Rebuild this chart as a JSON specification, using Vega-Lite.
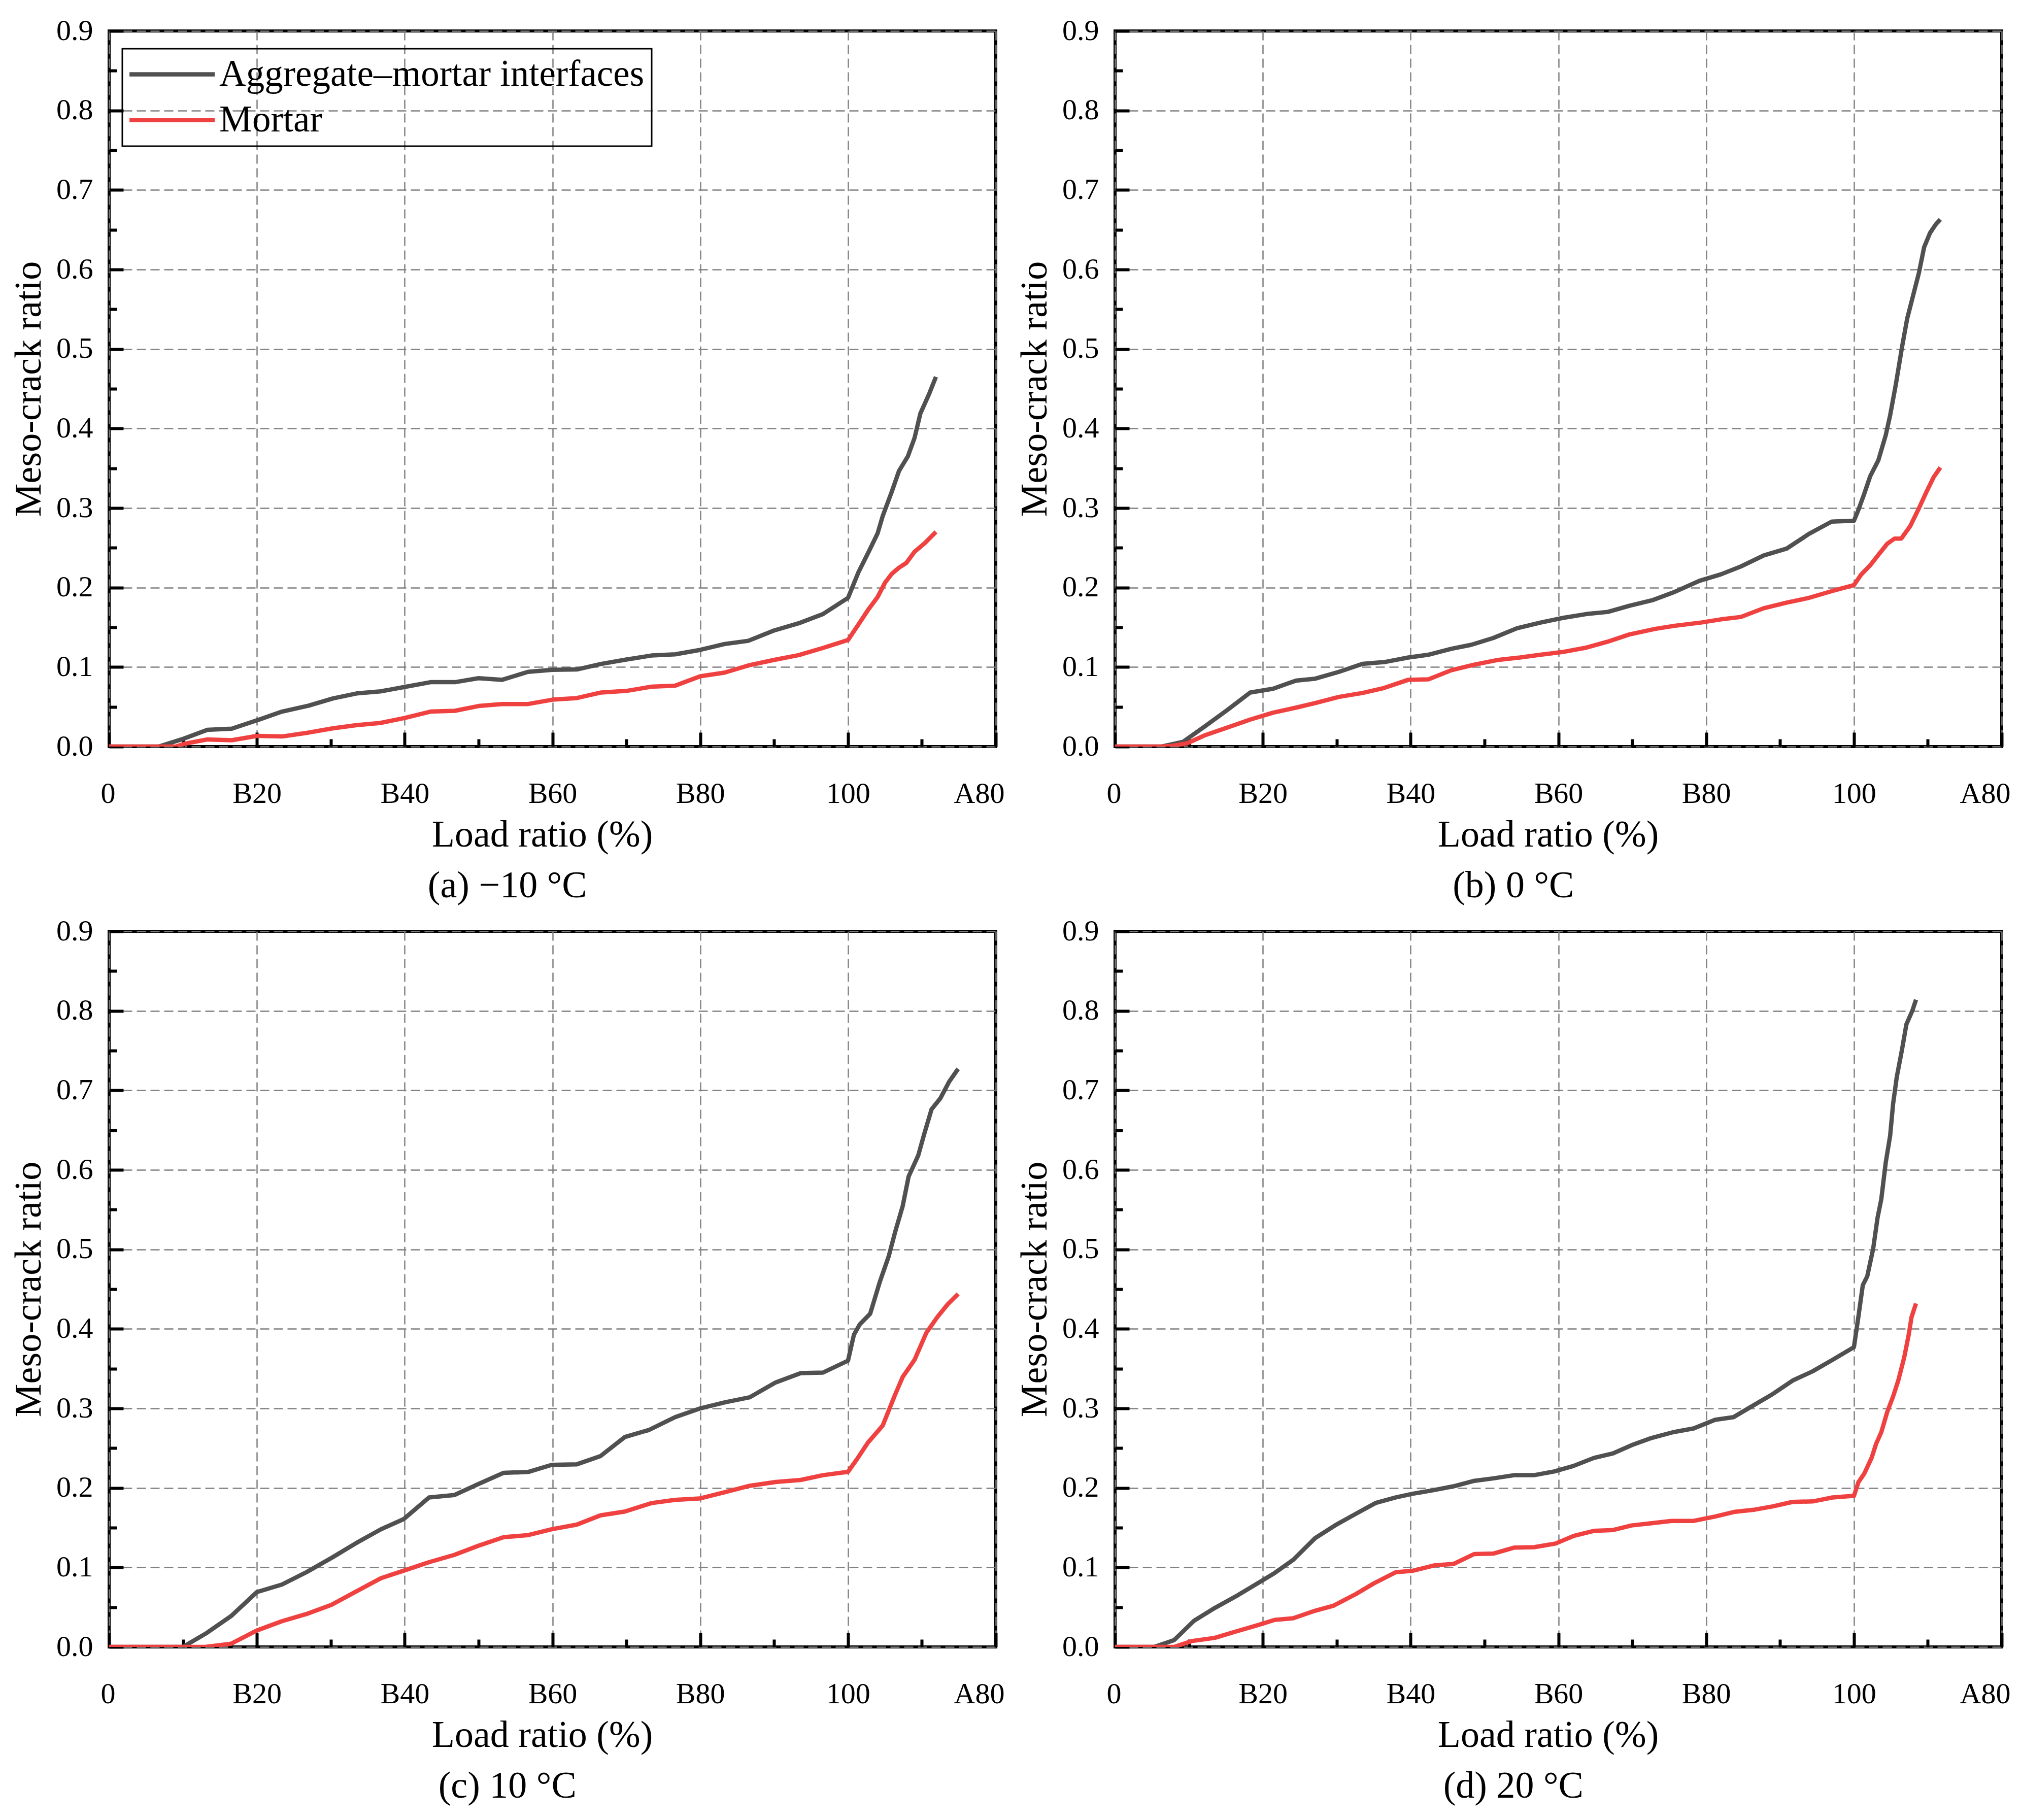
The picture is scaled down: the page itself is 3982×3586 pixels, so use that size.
{
"$schema":"https://vega.github.io/schema/vega-lite/v6.json",
"background":"white",
"padding":{"left":17,"top":29,"right":0,"bottom":0},
"columns":2,
"spacing":{"row":17,"column":17},
"datasets":{
"a":[
{"s":"Aggregate–mortar interfaces","x":0,"y":0},{"s":"Aggregate–mortar interfaces","x":6.7,"y":0},{"s":"Aggregate–mortar interfaces","x":9.8,"y":0.009},{"s":"Aggregate–mortar interfaces","x":13.3,"y":0.021},{"s":"Aggregate–mortar interfaces","x":16.6,"y":0.0225},{"s":"Aggregate–mortar interfaces","x":20,"y":0.033},{"s":"Aggregate–mortar interfaces","x":23.4,"y":0.044},{"s":"Aggregate–mortar interfaces","x":27,"y":0.0515},{"s":"Aggregate–mortar interfaces","x":30.3,"y":0.0606},{"s":"Aggregate–mortar interfaces","x":33.5,"y":0.0668},{"s":"Aggregate–mortar interfaces","x":36.7,"y":0.0694},{"s":"Aggregate–mortar interfaces","x":40,"y":0.075},{"s":"Aggregate–mortar interfaces","x":43.5,"y":0.081},{"s":"Aggregate–mortar interfaces","x":46.8,"y":0.081},{"s":"Aggregate–mortar interfaces","x":50,"y":0.086},{"s":"Aggregate–mortar interfaces","x":53.2,"y":0.084},{"s":"Aggregate–mortar interfaces","x":56.7,"y":0.094},{"s":"Aggregate–mortar interfaces","x":60,"y":0.0965},{"s":"Aggregate–mortar interfaces","x":63.3,"y":0.097},{"s":"Aggregate–mortar interfaces","x":66.6,"y":0.104},{"s":"Aggregate–mortar interfaces","x":70,"y":0.1095},{"s":"Aggregate–mortar interfaces","x":73.4,"y":0.1145},{"s":"Aggregate–mortar interfaces","x":76.6,"y":0.116},{"s":"Aggregate–mortar interfaces","x":80,"y":0.1216},{"s":"Aggregate–mortar interfaces","x":83.3,"y":0.129},{"s":"Aggregate–mortar interfaces","x":86.5,"y":0.133},{"s":"Aggregate–mortar interfaces","x":90,"y":0.146},{"s":"Aggregate–mortar interfaces","x":93.3,"y":0.155},{"s":"Aggregate–mortar interfaces","x":96.6,"y":0.1666},{"s":"Aggregate–mortar interfaces","x":100,"y":0.187},{"s":"Aggregate–mortar interfaces","x":101.4,"y":0.219},{"s":"Aggregate–mortar interfaces","x":102.8,"y":0.245},{"s":"Aggregate–mortar interfaces","x":104,"y":0.268},{"s":"Aggregate–mortar interfaces","x":104.7,"y":0.29},{"s":"Aggregate–mortar interfaces","x":105.9,"y":0.32},{"s":"Aggregate–mortar interfaces","x":106.9,"y":0.3466},{"s":"Aggregate–mortar interfaces","x":108.1,"y":0.365},{"s":"Aggregate–mortar interfaces","x":109,"y":0.388},{"s":"Aggregate–mortar interfaces","x":109.8,"y":0.419},{"s":"Aggregate–mortar interfaces","x":111,"y":0.444},{"s":"Aggregate–mortar interfaces","x":111.9,"y":0.465},
{"s":"Mortar","x":0,"y":0},{"s":"Mortar","x":9,"y":0},{"s":"Mortar","x":10.2,"y":0.0035},{"s":"Mortar","x":13.3,"y":0.009},{"s":"Mortar","x":16.6,"y":0.008},{"s":"Mortar","x":20,"y":0.0134},{"s":"Mortar","x":23.4,"y":0.0127},{"s":"Mortar","x":27,"y":0.0176},{"s":"Mortar","x":30.3,"y":0.023},{"s":"Mortar","x":33.5,"y":0.027},{"s":"Mortar","x":36.7,"y":0.0297},{"s":"Mortar","x":40,"y":0.036},{"s":"Mortar","x":43.5,"y":0.044},{"s":"Mortar","x":46.8,"y":0.045},{"s":"Mortar","x":50,"y":0.051},{"s":"Mortar","x":53.2,"y":0.0535},{"s":"Mortar","x":56.7,"y":0.0535},{"s":"Mortar","x":60,"y":0.059},{"s":"Mortar","x":63.3,"y":0.061},{"s":"Mortar","x":66.6,"y":0.068},{"s":"Mortar","x":70,"y":0.07},{"s":"Mortar","x":73.4,"y":0.0753},{"s":"Mortar","x":76.6,"y":0.0766},{"s":"Mortar","x":80,"y":0.0884},{"s":"Mortar","x":83.3,"y":0.093},{"s":"Mortar","x":86.5,"y":0.102},{"s":"Mortar","x":90,"y":0.109},{"s":"Mortar","x":93.3,"y":0.115},{"s":"Mortar","x":96.6,"y":0.124},{"s":"Mortar","x":100,"y":0.134},{"s":"Mortar","x":101.3,"y":0.152},{"s":"Mortar","x":102.8,"y":0.173},{"s":"Mortar","x":104,"y":0.188},{"s":"Mortar","x":105,"y":0.206},{"s":"Mortar","x":105.9,"y":0.217},{"s":"Mortar","x":106.9,"y":0.225},{"s":"Mortar","x":107.9,"y":0.231},{"s":"Mortar","x":109,"y":0.245},{"s":"Mortar","x":110.4,"y":0.256},{"s":"Mortar","x":111.9,"y":0.27}
],
"b":[
{"s":"Aggregate–mortar interfaces","x":0,"y":0},{"s":"Aggregate–mortar interfaces","x":6.3,"y":0},{"s":"Aggregate–mortar interfaces","x":9.2,"y":0.006},{"s":"Aggregate–mortar interfaces","x":12.1,"y":0.025},{"s":"Aggregate–mortar interfaces","x":15.2,"y":0.046},{"s":"Aggregate–mortar interfaces","x":18.3,"y":0.068},{"s":"Aggregate–mortar interfaces","x":21.4,"y":0.0728},{"s":"Aggregate–mortar interfaces","x":24.5,"y":0.083},{"s":"Aggregate–mortar interfaces","x":27.1,"y":0.0854},{"s":"Aggregate–mortar interfaces","x":30.3,"y":0.094},{"s":"Aggregate–mortar interfaces","x":33.5,"y":0.104},{"s":"Aggregate–mortar interfaces","x":36.6,"y":0.1065},{"s":"Aggregate–mortar interfaces","x":39.7,"y":0.112},{"s":"Aggregate–mortar interfaces","x":42.4,"y":0.1155},{"s":"Aggregate–mortar interfaces","x":45.5,"y":0.123},{"s":"Aggregate–mortar interfaces","x":48.2,"y":0.128},{"s":"Aggregate–mortar interfaces","x":51.2,"y":0.1366},{"s":"Aggregate–mortar interfaces","x":54.4,"y":0.1488},{"s":"Aggregate–mortar interfaces","x":57.6,"y":0.156},{"s":"Aggregate–mortar interfaces","x":60.6,"y":0.1618},{"s":"Aggregate–mortar interfaces","x":63.8,"y":0.1667},{"s":"Aggregate–mortar interfaces","x":66.7,"y":0.1694},{"s":"Aggregate–mortar interfaces","x":69.6,"y":0.177},{"s":"Aggregate–mortar interfaces","x":72.7,"y":0.184},{"s":"Aggregate–mortar interfaces","x":75.6,"y":0.194},{"s":"Aggregate–mortar interfaces","x":79.1,"y":0.2085},{"s":"Aggregate–mortar interfaces","x":82,"y":0.2166},{"s":"Aggregate–mortar interfaces","x":84.7,"y":0.2265},{"s":"Aggregate–mortar interfaces","x":87.8,"y":0.2404},{"s":"Aggregate–mortar interfaces","x":90.9,"y":0.249},{"s":"Aggregate–mortar interfaces","x":93.9,"y":0.2674},{"s":"Aggregate–mortar interfaces","x":97,"y":0.283},{"s":"Aggregate–mortar interfaces","x":100,"y":0.284},{"s":"Aggregate–mortar interfaces","x":100.6,"y":0.2975},{"s":"Aggregate–mortar interfaces","x":101.4,"y":0.318},{"s":"Aggregate–mortar interfaces","x":102.2,"y":0.34},{"s":"Aggregate–mortar interfaces","x":103.3,"y":0.36},{"s":"Aggregate–mortar interfaces","x":104.3,"y":0.3915},{"s":"Aggregate–mortar interfaces","x":104.9,"y":0.4166},{"s":"Aggregate–mortar interfaces","x":105.7,"y":0.457},{"s":"Aggregate–mortar interfaces","x":106.5,"y":0.502},{"s":"Aggregate–mortar interfaces","x":107.2,"y":0.538},{"s":"Aggregate–mortar interfaces","x":108,"y":0.567},{"s":"Aggregate–mortar interfaces","x":108.8,"y":0.596},{"s":"Aggregate–mortar interfaces","x":109.5,"y":0.628},{"s":"Aggregate–mortar interfaces","x":110.3,"y":0.646},{"s":"Aggregate–mortar interfaces","x":111.1,"y":0.657},{"s":"Aggregate–mortar interfaces","x":111.7,"y":0.663},
{"s":"Mortar","x":0,"y":0},{"s":"Mortar","x":6.3,"y":0},{"s":"Mortar","x":7.8,"y":0.001},{"s":"Mortar","x":9.75,"y":0.004},{"s":"Mortar","x":12.1,"y":0.014},{"s":"Mortar","x":15.2,"y":0.024},{"s":"Mortar","x":18.3,"y":0.034},{"s":"Mortar","x":21.4,"y":0.0427},{"s":"Mortar","x":24.5,"y":0.049},{"s":"Mortar","x":27.2,"y":0.055},{"s":"Mortar","x":30.3,"y":0.0625},{"s":"Mortar","x":33.5,"y":0.0674},{"s":"Mortar","x":36.4,"y":0.0737},{"s":"Mortar","x":39.7,"y":0.084},{"s":"Mortar","x":42.4,"y":0.0845},{"s":"Mortar","x":45.5,"y":0.096},{"s":"Mortar","x":48.6,"y":0.103},{"s":"Mortar","x":51.7,"y":0.1088},{"s":"Mortar","x":54.8,"y":0.112},{"s":"Mortar","x":57.6,"y":0.1155},{"s":"Mortar","x":60.6,"y":0.119},{"s":"Mortar","x":63.8,"y":0.1245},{"s":"Mortar","x":66.7,"y":0.132},{"s":"Mortar","x":69.6,"y":0.141},{"s":"Mortar","x":73.1,"y":0.148},{"s":"Mortar","x":75.8,"y":0.152},{"s":"Mortar","x":79.3,"y":0.156},{"s":"Mortar","x":82,"y":0.16},{"s":"Mortar","x":84.7,"y":0.163},{"s":"Mortar","x":87.8,"y":0.174},{"s":"Mortar","x":90.9,"y":0.181},{"s":"Mortar","x":93.9,"y":0.187},{"s":"Mortar","x":97,"y":0.1955},{"s":"Mortar","x":100,"y":0.203},{"s":"Mortar","x":101,"y":0.2166},{"s":"Mortar","x":102.2,"y":0.228},{"s":"Mortar","x":103.3,"y":0.241},{"s":"Mortar","x":104.5,"y":0.255},{"s":"Mortar","x":105.5,"y":0.2616},{"s":"Mortar","x":106.4,"y":0.2616},{"s":"Mortar","x":107.6,"y":0.277},{"s":"Mortar","x":108.8,"y":0.2998},{"s":"Mortar","x":109.9,"y":0.322},{"s":"Mortar","x":110.8,"y":0.339},{"s":"Mortar","x":111.7,"y":0.351}
],
"c":[
{"s":"Aggregate–mortar interfaces","x":0,"y":0},{"s":"Aggregate–mortar interfaces","x":10,"y":0},{"s":"Aggregate–mortar interfaces","x":13.2,"y":0.0175},{"s":"Aggregate–mortar interfaces","x":16.5,"y":0.0387},{"s":"Aggregate–mortar interfaces","x":20,"y":0.069},{"s":"Aggregate–mortar interfaces","x":23.4,"y":0.0785},{"s":"Aggregate–mortar interfaces","x":26.7,"y":0.094},{"s":"Aggregate–mortar interfaces","x":30.2,"y":0.1125},{"s":"Aggregate–mortar interfaces","x":33.5,"y":0.131},{"s":"Aggregate–mortar interfaces","x":36.8,"y":0.148},{"s":"Aggregate–mortar interfaces","x":39.9,"y":0.161},{"s":"Aggregate–mortar interfaces","x":43.3,"y":0.188},{"s":"Aggregate–mortar interfaces","x":46.7,"y":0.191},{"s":"Aggregate–mortar interfaces","x":50,"y":0.205},{"s":"Aggregate–mortar interfaces","x":53.4,"y":0.219},{"s":"Aggregate–mortar interfaces","x":56.7,"y":0.22},{"s":"Aggregate–mortar interfaces","x":59.9,"y":0.229},{"s":"Aggregate–mortar interfaces","x":63.3,"y":0.2297},{"s":"Aggregate–mortar interfaces","x":66.5,"y":0.24},{"s":"Aggregate–mortar interfaces","x":69.8,"y":0.264},{"s":"Aggregate–mortar interfaces","x":73.1,"y":0.273},{"s":"Aggregate–mortar interfaces","x":76.6,"y":0.289},{"s":"Aggregate–mortar interfaces","x":79.9,"y":0.2997},{"s":"Aggregate–mortar interfaces","x":83.4,"y":0.3077},{"s":"Aggregate–mortar interfaces","x":86.7,"y":0.314},{"s":"Aggregate–mortar interfaces","x":90.2,"y":0.3326},{"s":"Aggregate–mortar interfaces","x":93.6,"y":0.3443},{"s":"Aggregate–mortar interfaces","x":96.6,"y":0.345},{"s":"Aggregate–mortar interfaces","x":100,"y":0.36},{"s":"Aggregate–mortar interfaces","x":100.8,"y":0.3926},{"s":"Aggregate–mortar interfaces","x":101.6,"y":0.4058},{"s":"Aggregate–mortar interfaces","x":103,"y":0.419},{"s":"Aggregate–mortar interfaces","x":104.3,"y":0.459},{"s":"Aggregate–mortar interfaces","x":105.5,"y":0.491},{"s":"Aggregate–mortar interfaces","x":106.4,"y":0.5225},{"s":"Aggregate–mortar interfaces","x":107.4,"y":0.5544},{"s":"Aggregate–mortar interfaces","x":108.2,"y":0.5915},{"s":"Aggregate–mortar interfaces","x":109.5,"y":0.618},{"s":"Aggregate–mortar interfaces","x":110.3,"y":0.6446},{"s":"Aggregate–mortar interfaces","x":111.3,"y":0.676},{"s":"Aggregate–mortar interfaces","x":112.5,"y":0.69},{"s":"Aggregate–mortar interfaces","x":113.7,"y":0.711},{"s":"Aggregate–mortar interfaces","x":114.9,"y":0.727},
{"s":"Mortar","x":0,"y":0},{"s":"Mortar","x":13,"y":0},{"s":"Mortar","x":16.5,"y":0.004},{"s":"Mortar","x":20,"y":0.0207},{"s":"Mortar","x":23.4,"y":0.0324},{"s":"Mortar","x":26.7,"y":0.0414},{"s":"Mortar","x":30.1,"y":0.053},{"s":"Mortar","x":33.4,"y":0.0695},{"s":"Mortar","x":36.8,"y":0.0865},{"s":"Mortar","x":39.9,"y":0.096},{"s":"Mortar","x":43.3,"y":0.1066},{"s":"Mortar","x":46.7,"y":0.1157},{"s":"Mortar","x":50,"y":0.1273},{"s":"Mortar","x":53.4,"y":0.138},{"s":"Mortar","x":56.7,"y":0.1406},{"s":"Mortar","x":59.9,"y":0.148},{"s":"Mortar","x":63.3,"y":0.1538},{"s":"Mortar","x":66.5,"y":0.1655},{"s":"Mortar","x":69.8,"y":0.1703},{"s":"Mortar","x":73.4,"y":0.1809},{"s":"Mortar","x":76.6,"y":0.185},{"s":"Mortar","x":79.9,"y":0.1867},{"s":"Mortar","x":83.4,"y":0.1947},{"s":"Mortar","x":86.7,"y":0.2027},{"s":"Mortar","x":90.2,"y":0.2074},{"s":"Mortar","x":93.6,"y":0.21},{"s":"Mortar","x":96.6,"y":0.216},{"s":"Mortar","x":100,"y":0.2202},{"s":"Mortar","x":101.2,"y":0.236},{"s":"Mortar","x":102.7,"y":0.257},{"s":"Mortar","x":104.7,"y":0.2785},{"s":"Mortar","x":106.3,"y":0.3156},{"s":"Mortar","x":107.4,"y":0.3395},{"s":"Mortar","x":109,"y":0.361},{"s":"Mortar","x":110.6,"y":0.395},{"s":"Mortar","x":112.1,"y":0.415},{"s":"Mortar","x":113.5,"y":0.431},{"s":"Mortar","x":114.9,"y":0.444}
],
"d":[
{"s":"Aggregate–mortar interfaces","x":0,"y":0},{"s":"Aggregate–mortar interfaces","x":5.3,"y":0},{"s":"Aggregate–mortar interfaces","x":8,"y":0.0086},{"s":"Aggregate–mortar interfaces","x":10.7,"y":0.033},{"s":"Aggregate–mortar interfaces","x":13.5,"y":0.049},{"s":"Aggregate–mortar interfaces","x":16.6,"y":0.065},{"s":"Aggregate–mortar interfaces","x":19.3,"y":0.08},{"s":"Aggregate–mortar interfaces","x":21.6,"y":0.093},{"s":"Aggregate–mortar interfaces","x":24.1,"y":0.1095},{"s":"Aggregate–mortar interfaces","x":27.1,"y":0.137},{"s":"Aggregate–mortar interfaces","x":29.8,"y":0.153},{"s":"Aggregate–mortar interfaces","x":32.5,"y":0.167},{"s":"Aggregate–mortar interfaces","x":35.25,"y":0.181},{"s":"Aggregate–mortar interfaces","x":38,"y":0.188},{"s":"Aggregate–mortar interfaces","x":40.3,"y":0.1927},{"s":"Aggregate–mortar interfaces","x":43,"y":0.197},{"s":"Aggregate–mortar interfaces","x":45.8,"y":0.202},{"s":"Aggregate–mortar interfaces","x":48.5,"y":0.2087},{"s":"Aggregate–mortar interfaces","x":51.2,"y":0.212},{"s":"Aggregate–mortar interfaces","x":54,"y":0.216},{"s":"Aggregate–mortar interfaces","x":56.7,"y":0.216},{"s":"Aggregate–mortar interfaces","x":59.4,"y":0.2206},{"s":"Aggregate–mortar interfaces","x":62,"y":0.2275},{"s":"Aggregate–mortar interfaces","x":64.8,"y":0.2377},{"s":"Aggregate–mortar interfaces","x":67.4,"y":0.2434},{"s":"Aggregate–mortar interfaces","x":69.9,"y":0.2537},{"s":"Aggregate–mortar interfaces","x":72.6,"y":0.2628},{"s":"Aggregate–mortar interfaces","x":75.5,"y":0.27},{"s":"Aggregate–mortar interfaces","x":78.3,"y":0.2748},{"s":"Aggregate–mortar interfaces","x":81.2,"y":0.2856},{"s":"Aggregate–mortar interfaces","x":83.7,"y":0.289},{"s":"Aggregate–mortar interfaces","x":86.2,"y":0.3027},{"s":"Aggregate–mortar interfaces","x":89,"y":0.318},{"s":"Aggregate–mortar interfaces","x":91.7,"y":0.335},{"s":"Aggregate–mortar interfaces","x":94.4,"y":0.3466},{"s":"Aggregate–mortar interfaces","x":97.1,"y":0.361},{"s":"Aggregate–mortar interfaces","x":100,"y":0.377},{"s":"Aggregate–mortar interfaces","x":100.6,"y":0.415},{"s":"Aggregate–mortar interfaces","x":101.2,"y":0.455},{"s":"Aggregate–mortar interfaces","x":101.8,"y":0.466},{"s":"Aggregate–mortar interfaces","x":102.6,"y":0.5006},{"s":"Aggregate–mortar interfaces","x":103.2,"y":0.54},{"s":"Aggregate–mortar interfaces","x":103.7,"y":0.563},{"s":"Aggregate–mortar interfaces","x":104.3,"y":0.609},{"s":"Aggregate–mortar interfaces","x":104.9,"y":0.643},{"s":"Aggregate–mortar interfaces","x":105.3,"y":0.683},{"s":"Aggregate–mortar interfaces","x":105.8,"y":0.717},{"s":"Aggregate–mortar interfaces","x":106.5,"y":0.751},{"s":"Aggregate–mortar interfaces","x":107.1,"y":0.783},{"s":"Aggregate–mortar interfaces","x":107.9,"y":0.8},{"s":"Aggregate–mortar interfaces","x":108.4,"y":0.814},
{"s":"Mortar","x":0,"y":0},{"s":"Mortar","x":8,"y":0},{"s":"Mortar","x":10.4,"y":0.0074},{"s":"Mortar","x":13.5,"y":0.0114},{"s":"Mortar","x":16.2,"y":0.019},{"s":"Mortar","x":19.3,"y":0.0274},{"s":"Mortar","x":21.6,"y":0.034},{"s":"Mortar","x":24.1,"y":0.036},{"s":"Mortar","x":27.1,"y":0.0456},{"s":"Mortar","x":29.6,"y":0.052},{"s":"Mortar","x":32.5,"y":0.066},{"s":"Mortar","x":35,"y":0.0798},{"s":"Mortar","x":38,"y":0.094},{"s":"Mortar","x":40.3,"y":0.0958},{"s":"Mortar","x":43.2,"y":0.1026},{"s":"Mortar","x":45.8,"y":0.1043},{"s":"Mortar","x":48.6,"y":0.1168},{"s":"Mortar","x":51.2,"y":0.1174},{"s":"Mortar","x":54,"y":0.1249},{"s":"Mortar","x":56.7,"y":0.1254},{"s":"Mortar","x":59.6,"y":0.13},{"s":"Mortar","x":62.1,"y":0.1397},{"s":"Mortar","x":64.8,"y":0.146},{"s":"Mortar","x":67.4,"y":0.147},{"s":"Mortar","x":69.9,"y":0.1528},{"s":"Mortar","x":72.6,"y":0.1556},{"s":"Mortar","x":75.3,"y":0.1585},{"s":"Mortar","x":78.3,"y":0.1585},{"s":"Mortar","x":81.2,"y":0.164},{"s":"Mortar","x":83.9,"y":0.17},{"s":"Mortar","x":86.6,"y":0.1727},{"s":"Mortar","x":89,"y":0.1767},{"s":"Mortar","x":91.7,"y":0.1824},{"s":"Mortar","x":94.4,"y":0.183},{"s":"Mortar","x":97.1,"y":0.188},{"s":"Mortar","x":100,"y":0.19},{"s":"Mortar","x":100.6,"y":0.207},{"s":"Mortar","x":101.4,"y":0.218},{"s":"Mortar","x":102.4,"y":0.238},{"s":"Mortar","x":103,"y":0.2554},{"s":"Mortar","x":103.7,"y":0.27},{"s":"Mortar","x":104.5,"y":0.2953},{"s":"Mortar","x":105.3,"y":0.315},{"s":"Mortar","x":106,"y":0.335},{"s":"Mortar","x":106.8,"y":0.364},{"s":"Mortar","x":107.4,"y":0.392},{"s":"Mortar","x":107.8,"y":0.415},{"s":"Mortar","x":108.4,"y":0.432}
]
},
"concat":[
{"width":1747,"height":1410,"title":"(a) −10 °C","data":{"name":"a"},
"layer":[
{"mark":{"type":"line","strokeWidth":8.5,"strokeJoin":"round","clip":true},
"encoding":{
"x":{"field":"x","type":"quantitative","scale":{"domain":[0,120],"nice":false,"zero":false},"title":"Load ratio (%)","axis":{"values":[0,20,40,60,80,100,120],"labelExpr":"datum.value==0?'0':datum.value==100?'100':datum.value==120?'A80':'B'+datum.value","tickSize":-28,"labelPadding":92,"labelFlush":true,"labelFlushOffset":17,"labelOverlap":false,"grid":true,"titlePadding":16,"titleX":853,"orient":"bottom"}},
"y":{"field":"y","type":"quantitative","scale":{"domain":[0,0.9],"nice":false},"title":"Meso-crack ratio","axis":{"values":[0,0.1,0.2,0.3,0.4,0.5,0.6,0.7,0.8,0.9],"format":".1f","tickSize":-28,"labelPadding":60,"labelFlush":false,"labelOverlap":false,"grid":true,"titlePadding":15,"orient":"left"}},
"color":{"field":"s","type":"nominal","scale":{"domain":["Aggregate–mortar interfaces","Mortar"],"range":["#505050","#f04141"]},"legend":{"orient":"none","legendX":26,"legendY":35,"title":null}}
}},
{"mark":{"type":"line","strokeOpacity":0},
"encoding":{
"x":{"field":"x","type":"quantitative","scale":{"domain":[0,120],"nice":false,"zero":false},"axis":{"orient":"bottom","values":[10,30,50,70,90,110],"tickSize":-15,"labels":false,"grid":false,"domain":false,"title":null}},
"y":{"field":"y","type":"quantitative","scale":{"domain":[0,0.9],"nice":false},"axis":{"orient":"left","values":[0.05,0.15,0.25,0.35,0.45,0.55,0.65,0.75,0.85],"tickSize":-15,"labels":false,"grid":false,"domain":false,"title":null}}
}}
],
"resolve":{"axis":{"x":"independent","y":"independent"}}
},
{"width":1747,"height":1410,"title":"(b) 0 °C","data":{"name":"b"},
"layer":[
{"mark":{"type":"line","strokeWidth":8.5,"strokeJoin":"round","clip":true},
"encoding":{
"x":{"field":"x","type":"quantitative","scale":{"domain":[0,120],"nice":false,"zero":false},"title":"Load ratio (%)","axis":{"values":[0,20,40,60,80,100,120],"labelExpr":"datum.value==0?'0':datum.value==100?'100':datum.value==120?'A80':'B'+datum.value","tickSize":-28,"labelPadding":92,"labelFlush":true,"labelFlushOffset":17,"labelOverlap":false,"grid":true,"titlePadding":16,"titleX":853,"orient":"bottom"}},
"y":{"field":"y","type":"quantitative","scale":{"domain":[0,0.9],"nice":false},"title":"Meso-crack ratio","axis":{"values":[0,0.1,0.2,0.3,0.4,0.5,0.6,0.7,0.8,0.9],"format":".1f","tickSize":-28,"labelPadding":60,"labelFlush":false,"labelOverlap":false,"grid":true,"titlePadding":15,"orient":"left"}},
"color":{"field":"s","type":"nominal","scale":{"domain":["Aggregate–mortar interfaces","Mortar"],"range":["#505050","#f04141"]},"legend":{"orient":"none","legendX":26,"legendY":35,"title":null}}
}},
{"mark":{"type":"line","strokeOpacity":0},
"encoding":{
"x":{"field":"x","type":"quantitative","scale":{"domain":[0,120],"nice":false,"zero":false},"axis":{"orient":"bottom","values":[10,30,50,70,90,110],"tickSize":-15,"labels":false,"grid":false,"domain":false,"title":null}},
"y":{"field":"y","type":"quantitative","scale":{"domain":[0,0.9],"nice":false},"axis":{"orient":"left","values":[0.05,0.15,0.25,0.35,0.45,0.55,0.65,0.75,0.85],"tickSize":-15,"labels":false,"grid":false,"domain":false,"title":null}}
}}
],
"resolve":{"axis":{"x":"independent","y":"independent"}}
},
{"width":1747,"height":1410,"title":"(c) 10 °C","data":{"name":"c"},
"layer":[
{"mark":{"type":"line","strokeWidth":8.5,"strokeJoin":"round","clip":true},
"encoding":{
"x":{"field":"x","type":"quantitative","scale":{"domain":[0,120],"nice":false,"zero":false},"title":"Load ratio (%)","axis":{"values":[0,20,40,60,80,100,120],"labelExpr":"datum.value==0?'0':datum.value==100?'100':datum.value==120?'A80':'B'+datum.value","tickSize":-28,"labelPadding":92,"labelFlush":true,"labelFlushOffset":17,"labelOverlap":false,"grid":true,"titlePadding":16,"titleX":853,"orient":"bottom"}},
"y":{"field":"y","type":"quantitative","scale":{"domain":[0,0.9],"nice":false},"title":"Meso-crack ratio","axis":{"values":[0,0.1,0.2,0.3,0.4,0.5,0.6,0.7,0.8,0.9],"format":".1f","tickSize":-28,"labelPadding":60,"labelFlush":false,"labelOverlap":false,"grid":true,"titlePadding":15,"orient":"left"}},
"color":{"field":"s","type":"nominal","scale":{"domain":["Aggregate–mortar interfaces","Mortar"],"range":["#505050","#f04141"]},"legend":{"orient":"none","legendX":26,"legendY":35,"title":null}}
}},
{"mark":{"type":"line","strokeOpacity":0},
"encoding":{
"x":{"field":"x","type":"quantitative","scale":{"domain":[0,120],"nice":false,"zero":false},"axis":{"orient":"bottom","values":[10,30,50,70,90,110],"tickSize":-15,"labels":false,"grid":false,"domain":false,"title":null}},
"y":{"field":"y","type":"quantitative","scale":{"domain":[0,0.9],"nice":false},"axis":{"orient":"left","values":[0.05,0.15,0.25,0.35,0.45,0.55,0.65,0.75,0.85],"tickSize":-15,"labels":false,"grid":false,"domain":false,"title":null}}
}}
],
"resolve":{"axis":{"x":"independent","y":"independent"}}
},
{"width":1747,"height":1410,"title":"(d) 20 °C","data":{"name":"d"},
"layer":[
{"mark":{"type":"line","strokeWidth":8.5,"strokeJoin":"round","clip":true},
"encoding":{
"x":{"field":"x","type":"quantitative","scale":{"domain":[0,120],"nice":false,"zero":false},"title":"Load ratio (%)","axis":{"values":[0,20,40,60,80,100,120],"labelExpr":"datum.value==0?'0':datum.value==100?'100':datum.value==120?'A80':'B'+datum.value","tickSize":-28,"labelPadding":92,"labelFlush":true,"labelFlushOffset":17,"labelOverlap":false,"grid":true,"titlePadding":16,"titleX":853,"orient":"bottom"}},
"y":{"field":"y","type":"quantitative","scale":{"domain":[0,0.9],"nice":false},"title":"Meso-crack ratio","axis":{"values":[0,0.1,0.2,0.3,0.4,0.5,0.6,0.7,0.8,0.9],"format":".1f","tickSize":-28,"labelPadding":60,"labelFlush":false,"labelOverlap":false,"grid":true,"titlePadding":15,"orient":"left"}},
"color":{"field":"s","type":"nominal","scale":{"domain":["Aggregate–mortar interfaces","Mortar"],"range":["#505050","#f04141"]},"legend":{"orient":"none","legendX":26,"legendY":35,"title":null}}
}},
{"mark":{"type":"line","strokeOpacity":0},
"encoding":{
"x":{"field":"x","type":"quantitative","scale":{"domain":[0,120],"nice":false,"zero":false},"axis":{"orient":"bottom","values":[10,30,50,70,90,110],"tickSize":-15,"labels":false,"grid":false,"domain":false,"title":null}},
"y":{"field":"y","type":"quantitative","scale":{"domain":[0,0.9],"nice":false},"axis":{"orient":"left","values":[0.05,0.15,0.25,0.35,0.45,0.55,0.65,0.75,0.85],"tickSize":-15,"labels":false,"grid":false,"domain":false,"title":null}}
}}
],
"resolve":{"axis":{"x":"independent","y":"independent"}}
}
],
"config":{
"font":"Liberation Serif",
"view":{"stroke":"black","strokeWidth":6},
"axis":{"domain":false,"labelFont":"Liberation Serif","labelFontSize":58,"labelColor":"black","titleFont":"Liberation Serif","titleFontSize":74,"titleFontWeight":"normal","titleColor":"black","tickColor":"black","tickWidth":6,"gridColor":"#808080","gridDash":[18,9],"gridWidth":2.5,"gridOpacity":1},
"legend":{"labelFont":"Liberation Serif","labelFontSize":73,"labelColor":"black","labelLimit":2000,"symbolType":"M-1.3,0H4.7","symbolSize":3136,"symbolStrokeWidth":8.5,"labelOffset":104,"rowPadding":16,"padding":14,"strokeColor":"black","strokeWidth":3},
"title":{"font":"Liberation Serif","fontSize":74,"fontWeight":"normal","color":"black","orient":"bottom","offset":28,"frame":"bounds","anchor":"middle"}
}
}
